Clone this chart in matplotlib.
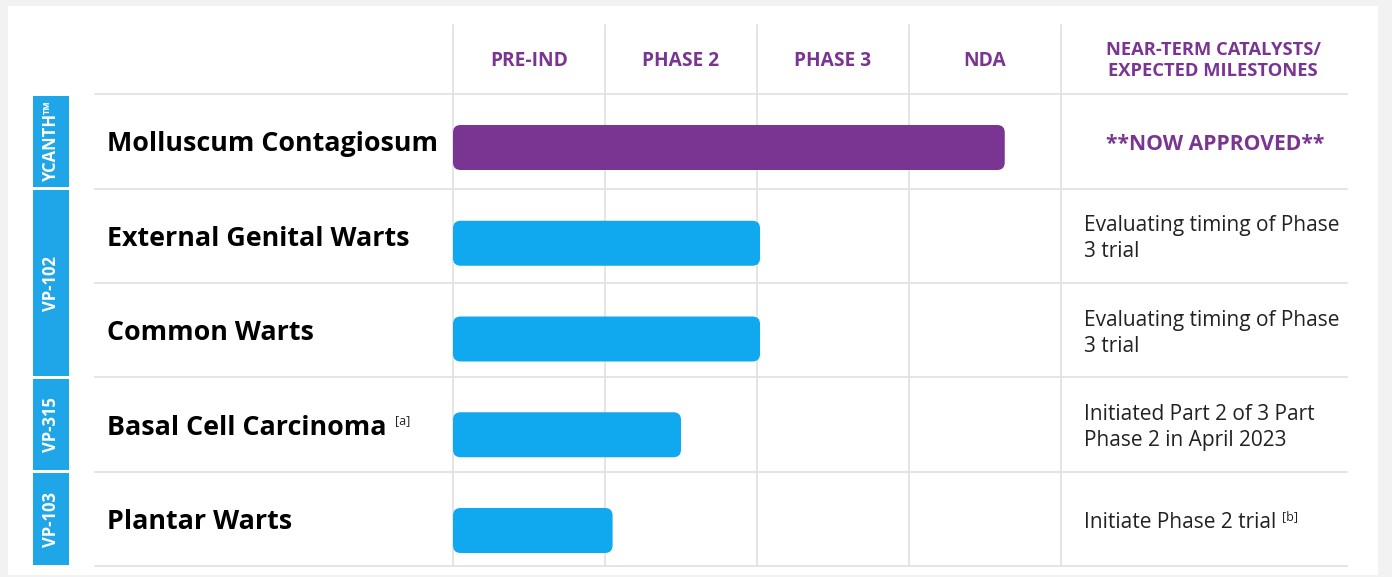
import matplotlib
matplotlib.use("Agg")
import matplotlib.pyplot as plt
from matplotlib.patches import FancyBboxPatch, Rectangle

# ---------------- data ----------------
stages = ["PRE-IND", "PHASE 2", "PHASE 3", "NDA"]
milestone_header = "NEAR-TERM CATALYSTS/\nEXPECTED MILESTONES"
indications = ["Molluscum Contagiosum", "External Genital Warts", "Common Warts",
               "Basal Cell Carcinoma", "Plantar Warts"]
label_notes = ["", "", "", "[a]", ""]
progress = [3.63, 2.02, 2.02, 1.50, 1.05]   # in stage units (0 = start of PRE-IND)
bar_colors = ["#7a3593", "#10a9ef", "#10a9ef", "#10a9ef", "#10a9ef"]
milestones = ["**NOW APPROVED**", "Evaluating timing of Phase\n3 trial",
              "Evaluating timing of Phase\n3 trial",
              "Initiated Part 2 of 3 Part\nPhase 2 in April 2023",
              "Initiate Phase 2 trial"]
milestone_notes = ["", "", "", "", "[b]"]
programs = ["YCANTH\u2122", "VP-102", "VP-315", "VP-103"]
program_rows = [(0, 0), (1, 2), (3, 3), (4, 4)]

PURPLE = "#7a3593"
BLUE_TAB = "#1fa6e8"
GRID = "#e0e0e0"
FONT = "Open Sans"

W, H = 1392, 577
fig = plt.figure(figsize=(W / 100, H / 100), dpi=100, facecolor="#f2f2f2")
ax = fig.add_axes([0, 0, 1, 1])
ax.axis("off")

# data coordinates: x in stage units, y in row units
x0_px, col_px = 453.0, 152.0
y0_px, row_px = 141.5, 94.4
def xd(px):
    return (px - x0_px) / col_px
def yd(py):
    return (py - y0_px) / row_px

ax.set_xlim(xd(0), xd(W))
ax.set_ylim(yd(H), yd(0))

# white card
ax.add_patch(Rectangle((xd(8), yd(6)), xd(1378) - xd(8), yd(575) - yd(6),
                       facecolor="white", edgecolor="none", zorder=0))

n = len(indications)
# horizontal separators
for i in range(n + 1):
    ax.plot([xd(95), xd(1347)], [i - 0.5, i - 0.5], color=GRID, lw=1.2, zorder=1)
# vertical grid lines
for k in range(len(stages) + 1):
    ax.plot([k, k], [yd(25), n - 0.5], color=GRID, lw=1.2, zorder=1)

# header
hy = yd(61)
for k, s in enumerate(stages):
    ax.text(k + 0.5, hy, s, ha="center", va="center", color=PURPLE,
            fontsize=13.8, fontweight="bold", family=FONT)
ax.text(xd(1213), yd(60.5), milestone_header, ha="center", va="center", color=PURPLE,
        fontsize=13.2, fontweight="bold", family=FONT, linespacing=1.18)

# bars (bar rows sit slightly lower than the text rows)
bh = 45 / row_px
bar_pitch = 95.75 / row_px
bar_shift = 6.0 / row_px
aspect = col_px / row_px
for i, (v, c) in enumerate(zip(progress, bar_colors)):
    yc = i * bar_pitch + bar_shift
    ax.add_patch(FancyBboxPatch((0, yc - bh / 2), v, bh,
                                boxstyle="round,pad=0,rounding_size=0.05",
                                mutation_aspect=aspect,
                                facecolor=c, edgecolor="none", zorder=2))

text_shift = 3.0 / row_px

# indication labels
for i, (name, note) in enumerate(zip(indications, label_notes)):
    t = ax.text(xd(107), i + text_shift, name, ha="left", va="center", color="black",
                fontsize=19.4, fontweight="bold", family=FONT)
    if note:
        ax.annotate(note, xy=(1, 0.78), xycoords=t, xytext=(6, 0),
                    textcoords="offset points", ha="left", va="center",
                    fontsize=9, color="#222222", family=FONT)

# milestones
for i, (m, note) in enumerate(zip(milestones, milestone_notes)):
    if i == 0:
        ax.text(xd(1215), i + text_shift, m, ha="center", va="center", color=PURPLE,
                fontsize=15.2, fontweight="bold", family=FONT)
    else:
        t = ax.text(xd(1084), i + text_shift, m, ha="left", va="center", color="#222222",
                    fontsize=15, family=FONT, linespacing=1.32)
        if note:
            ax.annotate(note, xy=(1, 0.75), xycoords=t, xytext=(4, 0),
                        textcoords="offset points", ha="left", va="center",
                        fontsize=9, color="#222222", family=FONT)

# program tabs
tx0, tx1 = xd(33), xd(69)
gap = 1.5 / row_px
for name, (r0, r1) in zip(programs, program_rows):
    top = r0 - 0.5 + gap
    bot = r1 + 0.5 - gap
    ax.add_patch(Rectangle((tx0, top), tx1 - tx0, bot - top,
                           facecolor=BLUE_TAB, edgecolor="none", zorder=2))
    ax.text((tx0 + tx1) / 2, (top + bot) / 2, name, rotation=90,
            ha="center", va="center", color="white", fontsize=12,
            fontweight="bold", family=FONT, zorder=3)

fig.savefig("out.png", dpi=100, facecolor=fig.get_facecolor())
